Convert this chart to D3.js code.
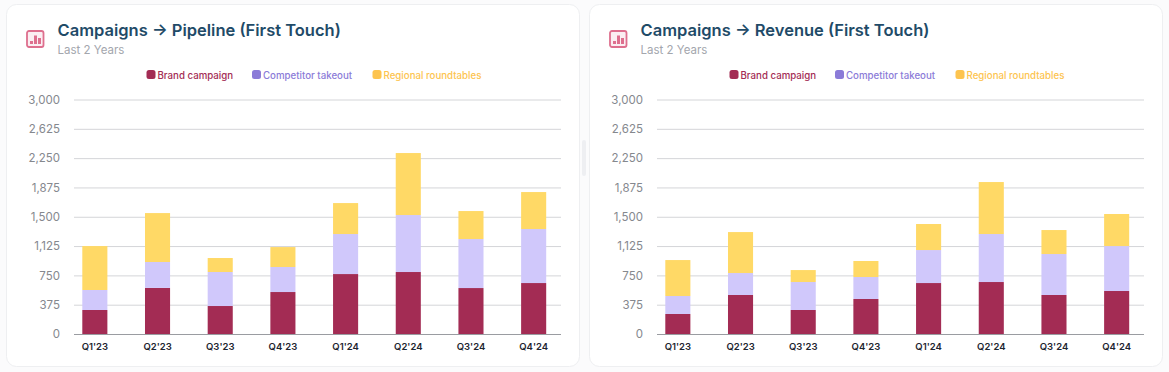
<!DOCTYPE html>
<html>
<head>
<meta charset="utf-8">
<script src="https://cdn.jsdelivr.net/npm/d3@7"></script>
<style>
  html, body { margin: 0; padding: 0; background: #fbfbfc; }
  svg { display: block; font-family: Inter, "Noto Sans", sans-serif; }
</style>
</head>
<body>
<div id="chart"></div>
<script>
// chart data
const quarters = ["Q1'23", "Q2'23", "Q3'23", "Q4'23", "Q1'24", "Q2'24", "Q3'24", "Q4'24"];
const seriesNames = ["Brand campaign", "Competitor takeout", "Regional roundtables"];
const seriesColors = ["#a32c54", "#d0c8fb", "#ffd966"];
const legendColors = ["#a32c54", "#8b7bd8", "#fdc44f"];
const yTicks = [0, 375, 750, 1125, 1500, 1875, 2250, 2625, 3000];

const pipelineBrand = [307, 590, 358, 537, 767, 793, 588, 652];
const pipelineCompetitor = [256, 331, 435, 320, 512, 729, 627, 691];
const pipelineRegional = [562, 626, 179, 255, 396, 793, 358, 473];

const revenueBrand = [256, 499, 307, 448, 652, 665, 499, 550];
const revenueCompetitor = [230, 281, 358, 281, 422, 614, 524, 575];
const revenueRegional = [460, 524, 153, 205, 333, 665, 307, 410];

const width = 1169, height = 372;

const svg = d3.select("#chart").append("svg")
    .attr("width", width)
    .attr("height", height);

// one card with title, legend and stacked bars
function drawCard(left, title, values) {
  const g = svg.append("g").attr("transform", "translate(" + left + ",0)");

  g.append("rect")
      .attr("x", 0.5).attr("y", 4.5)
      .attr("width", 573).attr("height", 362)
      .attr("rx", 10)
      .attr("fill", "#fff")
      .attr("stroke", "#eeeff1");

  // little chart icon
  const icon = g.append("g").attr("transform", "translate(20,30)");
  icon.append("rect")
      .attr("x", 1).attr("y", 1)
      .attr("width", 16.5).attr("height", 16)
      .attr("rx", 2)
      .attr("fill", "#fbeef2")
      .attr("stroke", "#de6f8e")
      .attr("stroke-width", 1.8);
  icon.selectAll(".ib")
    .data([[4, 11, 3], [8, 5.5, 8.5], [12, 8, 6]])
    .join("rect")
      .attr("x", d => d[0])
      .attr("y", d => d[1])
      .attr("width", 3)
      .attr("height", d => d[2])
      .attr("fill", "#de6f8e");

  g.append("text")
      .attr("x", 51.5).attr("y", 36)
      .attr("font-size", 16.5).attr("font-weight", 600)
      .attr("fill", "#1f4b68")
      .text(title);
  g.append("text")
      .attr("x", 51.5).attr("y", 53.5)
      .attr("font-size", 11.5)
      .attr("fill", "#a3a6ad")
      .text("Last 2 Years");

  // legend
  const legendX = [140.5, 246, 366.5];
  const leg = g.selectAll(".leg").data(seriesNames).join("g")
      .attr("transform", (d, i) => "translate(" + legendX[i] + ",70)");
  leg.append("rect")
      .attr("width", 9).attr("height", 9)
      .attr("rx", 2.5)
      .attr("fill", (d, i) => legendColors[i]);
  leg.append("text")
      .attr("x", 11).attr("y", 8.6)
      .attr("font-size", 9.7).attr("font-weight", 500)
      .attr("fill", (d, i) => legendColors[i])
      .text(d => d);

  const x = d3.scaleBand()
      .domain(quarters)
      .range([57.5, 559])
      .paddingInner(0.6)
      .paddingOuter(0.3);
  const y = d3.scaleLinear().domain([0, 3000]).range([334, 99.5]);

  // y axis with long grid lines
  const yAxis = g.append("g")
      .attr("transform", "translate(68,0)")
      .call(d3.axisLeft(y).tickValues(yTicks).tickFormat(d3.format(",")).tickSize(0).tickPadding(14));
  yAxis.select(".domain").remove();
  yAxis.selectAll("text")
      .attr("font-family", "Inter")
      .attr("font-size", 11.5)
      .attr("fill", "#85888e");
  yAxis.selectAll("line")
      .attr("x1", 0).attr("x2", 487)
      .attr("stroke", (d) => d === 0 ? "#9a9ca1" : "#d4d5d8");

  // stacked bars
  const rows = quarters.map((q, i) => ({
    quarter: q,
    [seriesNames[0]]: values[0][i],
    [seriesNames[1]]: values[1][i],
    [seriesNames[2]]: values[2][i]
  }));
  const stacked = d3.stack().keys(seriesNames)(rows);

  g.selectAll(".layer")
    .data(stacked)
    .join("g")
      .attr("fill", (d, i) => seriesColors[i])
    .selectAll("rect")
    .data(d => d)
    .join("rect")
      .attr("x", d => x(d.data.quarter))
      .attr("y", d => y(d[1]))
      .attr("width", x.bandwidth())
      .attr("height", d => y(d[0]) - y(d[1]));

  // x axis labels
  const xAxis = g.append("g")
      .attr("transform", "translate(0,334)")
      .call(d3.axisBottom(x).tickSize(0).tickPadding(9));
  xAxis.select(".domain").remove();
  xAxis.selectAll("text")
      .attr("font-family", "Inter")
      .attr("font-size", 9.5)
      .attr("font-weight", 600)
      .attr("fill", "#1d2530");
}

drawCard(6, "Campaigns \u2192 Pipeline (First Touch)", [pipelineBrand, pipelineCompetitor, pipelineRegional]);
drawCard(589, "Campaigns \u2192 Revenue (First Touch)", [revenueBrand, revenueCompetitor, revenueRegional]);

// faint resize handle between the cards
svg.append("rect")
    .attr("x", 582).attr("y", 140)
    .attr("width", 4).attr("height", 36)
    .attr("rx", 2)
    .attr("fill", "#eeeff2");
</script>
</body>
</html>
